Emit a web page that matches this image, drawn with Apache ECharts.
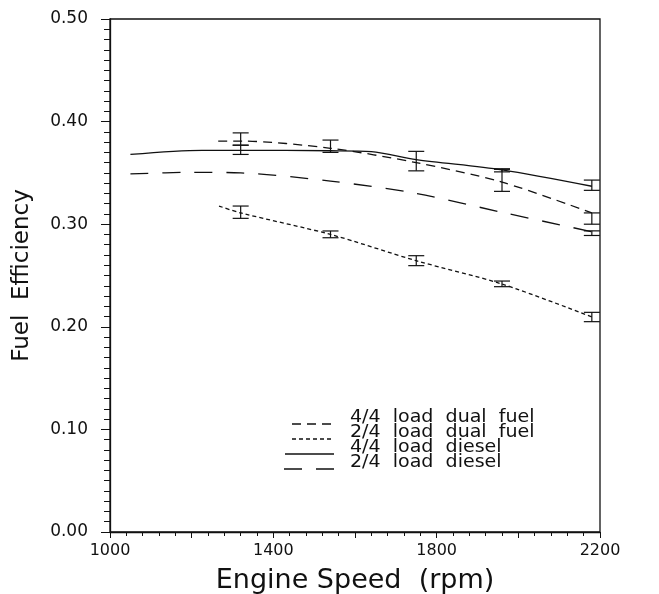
<!DOCTYPE html>
<html>
<head>
<meta charset="utf-8">
<script src="https://cdn.jsdelivr.net/npm/echarts@6/dist/echarts.min.js"></script>
<style>html,body{margin:0;padding:0;background:#fff}#c{width:659px;height:594px}</style>
</head>
<body>
<div id="c"></div>
<script>
// ---- data ----
var seriesNames = ['4/4  load  dual  fuel', '2/4  load  dual  fuel', '4/4  load  diesel', '2/4  load  diesel'];
// 4/4 load dual fuel
var dual44X = [1265, 1320, 1540, 1750, 1960, 2180];
var dual44Y = [0.381, 0.381, 0.374, 0.360, 0.341, 0.311];
var dual44Err = [[1320, 0.377, 0.389], [1540, 0.370, 0.382], [1750, 0.352, 0.371], [1960, 0.332, 0.3535], [2180, 0.300, 0.311]];
// 2/4 load dual fuel
var dual24X = [1267, 1320, 1540, 1750, 1960, 2180];
var dual24Y = [0.3177, 0.311, 0.290, 0.2644, 0.2417, 0.2096];
var dual24Err = [[1320, 0.3057, 0.3177], [1540, 0.2868, 0.2934], [1750, 0.2596, 0.2693], [1960, 0.2391, 0.2446], [2180, 0.2050, 0.2141]];
// 4/4 load diesel
var diesel44X = [1050, 1225, 1320, 1540, 1640, 1750, 1960, 2180];
var diesel44Y = [0.368, 0.372, 0.372, 0.3716, 0.3707, 0.363, 0.353, 0.337];
var diesel44Err = [[1320, 0.368, 0.377], [1960, 0.351, 0.354], [2180, 0.333, 0.343]];
// 2/4 load diesel
var diesel24X = [1050, 1200, 1320, 1540, 1750, 1960, 2180];
var diesel24Y = [0.349, 0.3506, 0.350, 0.342, 0.330, 0.3116, 0.2927];
var diesel24Err = [[2180, 0.289, 0.2935]];
// axes
var xMin = 1000, xMax = 2200, xStep = 200, xLabelTicks = [1000, 1400, 1800, 2200];
var yMin = 0, yMax = 0.5, yStep = 0.1;
var xTitle = 'Engine Speed  (rpm)';
var yTitle = 'Fuel  Efficiency';

function pairs(xs, ys) { return xs.map(function (x, i) { return [x, ys[i]]; }); }

var FONT = 'DejaVu Sans';
var INK = '#111';
var dashes = [[9, 6], [4, 3], null, [18, 14]];

function errItem(params, api) {
  var x = api.value(0);
  var lo = api.coord([x, api.value(1)]);
  var hi = api.coord([x, api.value(2)]);
  var w = 8;
  var st = { stroke: INK, lineWidth: 1.2 };
  return {
    type: 'group',
    children: [
      { type: 'line', shape: { x1: lo[0], y1: lo[1], x2: hi[0], y2: hi[1] }, style: st },
      { type: 'line', shape: { x1: lo[0] - w, y1: lo[1], x2: lo[0] + w, y2: lo[1] }, style: st },
      { type: 'line', shape: { x1: hi[0] - w, y1: hi[1], x2: hi[0] + w, y2: hi[1] }, style: st }
    ]
  };
}

var lineData = [pairs(dual44X, dual44Y), pairs(dual24X, dual24Y), pairs(diesel44X, diesel44Y), pairs(diesel24X, diesel24Y)];
var errData = [dual44Err, dual24Err, diesel44Err, diesel24Err];

var series = [];
lineData.forEach(function (d, i) {
  series.push({
    type: 'line', name: seriesNames[i], data: d, smooth: 0.3, symbol: 'none',
    lineStyle: { color: INK, width: 1.3, type: dashes[i] || 'solid' }, z: 3
  });
  series.push({
    type: 'custom', name: seriesNames[i] + ' err', data: errData[i], renderItem: errItem,
    encode: { x: 0, y: [1, 2] }, z: 4
  });
});

// legend drawn as graphic
var legendRows = [418, 433, 448, 463];
var legendX1 = [292, 292, 285, 284], legendX2 = 334;
var graphics = [];
legendRows.forEach(function (yy, i) {
  var ls = { stroke: INK, lineWidth: 1.3 };
  if (dashes[i]) ls.lineDash = dashes[i];
  graphics.push({ type: 'line', shape: { x1: legendX1[i], y1: yy + 6, x2: legendX2, y2: yy + 6 }, style: ls });
  graphics.push({ type: 'text', x: 350, y: yy - 9, scaleX: 1.12,
    style: { text: seriesNames[i], font: '17px "' + FONT + '"', fill: INK } });
});

var chart = echarts.init(document.getElementById('c'), null, { renderer: 'canvas' });
chart.setOption({
  animation: false,
  backgroundColor: '#fff',
  grid: { left: 110, right: 59, top: 19, bottom: 62, containLabel: false, outerBoundsMode: 'none',
          show: true, borderColor: INK, borderWidth: 1.3, backgroundColor: 'transparent' },
  xAxis: {
    type: 'value', min: xMin, max: xMax, interval: xStep,
    name: xTitle, nameLocation: 'middle', nameGap: 35,
    nameTextStyle: { fontFamily: FONT, fontSize: 27, color: INK },
    axisLine: { show: true, lineStyle: { color: INK, width: 1.3 } },
    axisTick: { show: true, length: 6, lineStyle: { color: INK } },
    minorTick: { show: true, splitNumber: 5, length: 4, lineStyle: { color: INK } },
    splitLine: { show: false },
    axisLabel: {
      fontFamily: FONT, fontSize: 16, color: INK, margin: 11,
      formatter: function (v) { return xLabelTicks.indexOf(v) >= 0 ? String(v) : ''; }
    }
  },
  yAxis: {
    type: 'value', min: yMin, max: yMax, interval: yStep,
    name: yTitle, nameLocation: 'middle', nameGap: 76, nameRotate: 90,
    nameTextStyle: { fontFamily: FONT, fontSize: 23, color: INK },
    axisLine: { show: true, lineStyle: { color: INK, width: 1.3 } },
    axisTick: { show: true, length: 9, lineStyle: { color: INK } },
    minorTick: { show: true, splitNumber: 10, length: 6, lineStyle: { color: INK } },
    splitLine: { show: false },
    axisLabel: { fontFamily: FONT, fontSize: 17, color: INK, margin: 22, formatter: function (v) { return v.toFixed(2); } }
  },
  series: series,
  graphic: graphics
});
</script>
</body>
</html>
